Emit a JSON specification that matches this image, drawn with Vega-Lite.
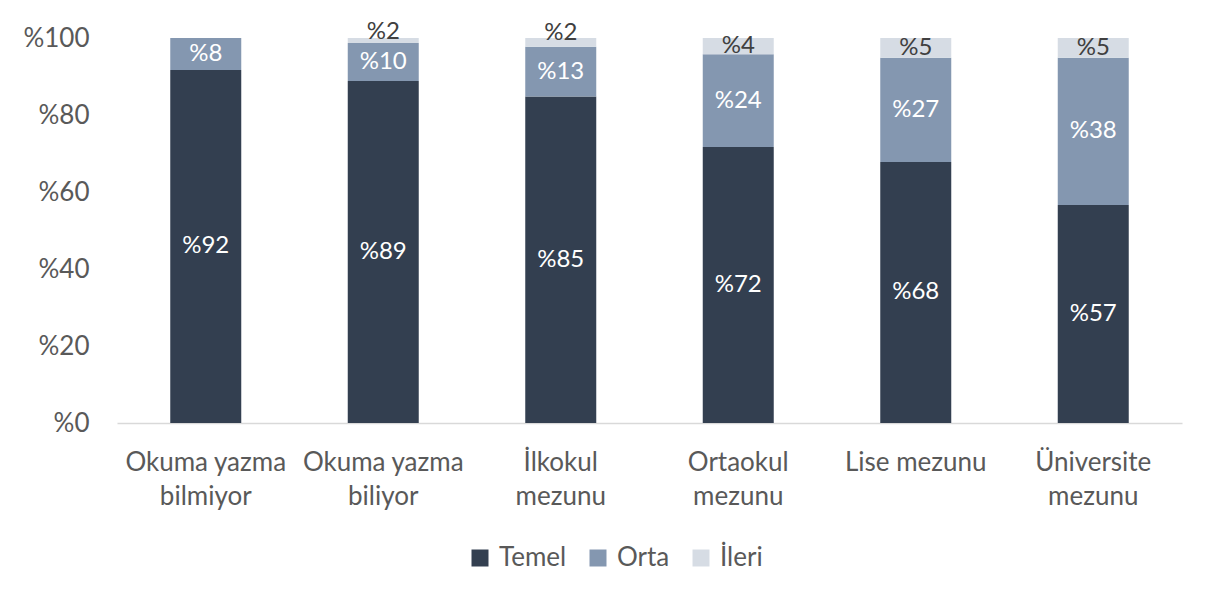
{
  "$schema": "https://vega.github.io/schema/vega-lite/v6.json",
  "width": 1065,
  "height": 385,
  "autosize": {"type": "none"},
  "padding": {"left": 117, "top": 38, "right": 28, "bottom": 169},
  "background": "white",
  "config": {
    "font": "Lato",
    "view": {"stroke": null}
  },
  "data": {
    "values": [
      {"egitim": "Okuma yazma|bilmiyor", "seviye": "Temel", "ord": 1, "deger": 91.7, "etiket": "%92"},
      {"egitim": "Okuma yazma|bilmiyor", "seviye": "Orta", "ord": 2, "deger": 8.3, "etiket": "%8"},
      {"egitim": "Okuma yazma|biliyor", "seviye": "Temel", "ord": 1, "deger": 88.8, "etiket": "%89"},
      {"egitim": "Okuma yazma|biliyor", "seviye": "Orta", "ord": 2, "deger": 9.9, "etiket": "%10"},
      {"egitim": "Okuma yazma|biliyor", "seviye": "İleri", "ord": 3, "deger": 1.3, "etiket": "%2"},
      {"egitim": "İlkokul|mezunu", "seviye": "Temel", "ord": 1, "deger": 84.8, "etiket": "%85"},
      {"egitim": "İlkokul|mezunu", "seviye": "Orta", "ord": 2, "deger": 12.9, "etiket": "%13"},
      {"egitim": "İlkokul|mezunu", "seviye": "İleri", "ord": 3, "deger": 2.3, "etiket": "%2"},
      {"egitim": "Ortaokul|mezunu", "seviye": "Temel", "ord": 1, "deger": 71.7, "etiket": "%72"},
      {"egitim": "Ortaokul|mezunu", "seviye": "Orta", "ord": 2, "deger": 24.1, "etiket": "%24"},
      {"egitim": "Ortaokul|mezunu", "seviye": "İleri", "ord": 3, "deger": 4.2, "etiket": "%4"},
      {"egitim": "Lise mezunu", "seviye": "Temel", "ord": 1, "deger": 67.8, "etiket": "%68"},
      {"egitim": "Lise mezunu", "seviye": "Orta", "ord": 2, "deger": 27.1, "etiket": "%27"},
      {"egitim": "Lise mezunu", "seviye": "İleri", "ord": 3, "deger": 5.1, "etiket": "%5"},
      {"egitim": "Üniversite|mezunu", "seviye": "Temel", "ord": 1, "deger": 56.6, "etiket": "%57"},
      {"egitim": "Üniversite|mezunu", "seviye": "Orta", "ord": 2, "deger": 38.3, "etiket": "%38"},
      {"egitim": "Üniversite|mezunu", "seviye": "İleri", "ord": 3, "deger": 5.1, "etiket": "%5"}
    ]
  },
  "encoding": {
    "x": {
      "field": "egitim",
      "type": "nominal",
      "sort": null,
      "scale": {"paddingInner": 0.6, "paddingOuter": 0.3},
      "axis": {
        "title": null,
        "labelAngle": 0,
        "labelExpr": "split(datum.label, '|')",
        "labelFontSize": 26,
        "labelColor": "#595959",
        "labelLineHeight": 34,
        "labelPadding": 26,
        "labelBaseline": "top",
        "ticks": false,
        "domainColor": "#D9D9D9",
        "domainWidth": 1.5,
        "labelLimit": 300
      }
    }
  },
  "layer": [
    {
      "mark": {"type": "bar"},
      "encoding": {
        "y": {
          "field": "deger",
          "type": "quantitative",
          "stack": "zero",
          "scale": {"domain": [0, 100], "nice": false},
          "axis": {
            "title": null,
            "values": [0, 20, 40, 60, 80, 100],
            "labelExpr": "'%' + datum.value",
            "labelFontSize": 26,
            "labelColor": "#595959",
            "labelPadding": 28,
            "ticks": false,
            "domain": false,
            "grid": false
          }
        },
        "order": {"field": "ord", "type": "quantitative"},
        "color": {
          "field": "seviye",
          "type": "nominal",
          "scale": {"domain": ["Temel", "Orta", "İleri"], "range": ["#333F50", "#8497B0", "#D6DCE4"]},
          "legend": {
            "title": null,
            "orient": "none",
            "legendX": 350,
            "legendY": 507,
            "direction": "horizontal",
            "symbolType": "square",
            "symbolSize": 289,
            "symbolStrokeWidth": 0,
            "labelFontSize": 26,
            "labelColor": "#595959",
            "columnPadding": 18,
            "labelOffset": 6
          }
        }
      }
    },
    {
      "mark": {"type": "text", "fontSize": 24, "baseline": "middle"},
      "encoding": {
        "y": {"field": "deger", "type": "quantitative", "stack": "zero", "bandPosition": 0.5},
        "order": {"field": "ord", "type": "quantitative"},
        "detail": {"field": "seviye", "type": "nominal"},
        "text": {
          "condition": {"test": "datum.seviye === 'İleri' && datum.deger < 3", "value": ""},
          "field": "etiket",
          "type": "nominal"
        },
        "color": {
          "condition": {"test": "datum.seviye === 'İleri'", "value": "#404040"},
          "value": "white"
        }
      }
    },
    {
      "mark": {"type": "text", "fontSize": 24, "baseline": "middle", "dy": -9, "color": "#404040"},
      "encoding": {
        "y": {"field": "deger", "type": "quantitative", "stack": "zero", "bandPosition": 0.5},
        "order": {"field": "ord", "type": "quantitative"},
        "detail": {"field": "seviye", "type": "nominal"},
        "text": {
          "condition": {"test": "datum.seviye === 'İleri' && datum.deger < 3", "field": "etiket", "type": "nominal"},
          "value": ""
        }
      }
    }
  ]
}
